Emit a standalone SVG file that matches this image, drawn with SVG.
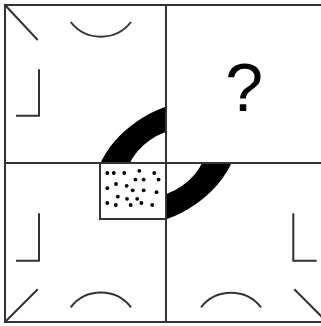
<svg xmlns="http://www.w3.org/2000/svg" width="321" height="326" viewBox="0 0 321 326">
  <style>
    .ln { fill: none; stroke: #333; stroke-width: 2; }
    .ring { fill: #000; fill-rule: evenodd; stroke: none; }
    .dot { fill: #000; }
    .q { font-family: "Liberation Sans", Arial, sans-serif; font-size: 68px; fill: #000; }
  </style>
  <defs>
    <clipPath id="ringClip">
      <rect x="0" y="0" width="166" height="163"/>
      <rect x="166" y="163" width="166" height="163"/>
    </clipPath>
  </defs>
  <rect width="321" height="326" fill="#fff"/>
  <g id="ring" clip-path="url(#ringClip)">
    <g transform="rotate(-34.6 166 163)">
      <path class="ring" d="M86.8,163 a79.2,50.8 0 1 0 158.4,0 a79.2,50.8 0 1 0 -158.4,0 Z M122.4,163 a43.6,28 0 1 0 87.2,0 a43.6,28 0 1 0 -87.2,0 Z"/>
    </g>
  </g>
  <g id="grid">
    <rect class="ln" x="5" y="5" width="322" height="317"/>
    <line class="ln" x1="166" y1="5" x2="166" y2="322"/>
    <line class="ln" x1="5" y1="163" x2="327" y2="163"/>
  </g>
  <g id="cell-top-left">
    <line class="ln" x1="5" y1="5" x2="37.7" y2="40"/>
    <path class="ln" d="M70.7,22 A38.3,38.3 0 0 0 131,22"/>
    <path class="ln" d="M39,69.3 V115.7 H16"/>
  </g>
  <g id="cell-top-right">
    <text class="q" x="244.2" y="111" text-anchor="middle">?</text>
  </g>
  <g id="cell-bottom-left">
    <line class="ln" x1="5" y1="322" x2="37.7" y2="289.3"/>
    <path class="ln" d="M70.7,307.3 A38.3,38.3 0 0 1 131,307.3"/>
    <path class="ln" d="M39,213.3 V260.7 H16"/>
  </g>
  <g id="cell-bottom-right">
    <line class="ln" x1="327" y1="322" x2="294.3" y2="289.3"/>
    <path class="ln" d="M201,307.3 A38.3,38.3 0 0 1 261,307.3"/>
    <path class="ln" d="M293.3,213.3 V260.7 H316.7"/>
  </g>
  <g id="dotted-box">
    <rect class="ln" x="100" y="163" width="66" height="56" style="fill:#fff"/>
    <g class="dot">
      <circle cx="107.3" cy="173" r="1.9"/>
      <circle cx="113.8" cy="173" r="1.9"/>
      <circle cx="124.3" cy="173" r="1.9"/>
      <circle cx="139.3" cy="170.8" r="1.9"/>
      <circle cx="154.2" cy="173" r="1.9"/>
      <circle cx="135.4" cy="179.6" r="1.9"/>
      <circle cx="143.7" cy="179.6" r="1.9"/>
      <circle cx="158.6" cy="179.6" r="1.9"/>
      <circle cx="116" cy="184" r="1.9"/>
      <circle cx="126.7" cy="185.8" r="1.9"/>
      <circle cx="107.3" cy="188.2" r="1.9"/>
      <circle cx="132.7" cy="190.3" r="1.9"/>
      <circle cx="143.7" cy="190.3" r="1.9"/>
      <circle cx="156.5" cy="192.2" r="1.9"/>
      <circle cx="117.8" cy="196.7" r="1.9"/>
      <circle cx="127" cy="198.8" r="1.9"/>
      <circle cx="137.2" cy="198.8" r="1.9"/>
      <circle cx="107.3" cy="203" r="1.9"/>
      <circle cx="115.8" cy="205" r="1.9"/>
      <circle cx="130.7" cy="205" r="1.9"/>
      <circle cx="141.4" cy="203" r="1.9"/>
      <circle cx="152.2" cy="205" r="1.9"/>
    </g>
  </g>
</svg>
